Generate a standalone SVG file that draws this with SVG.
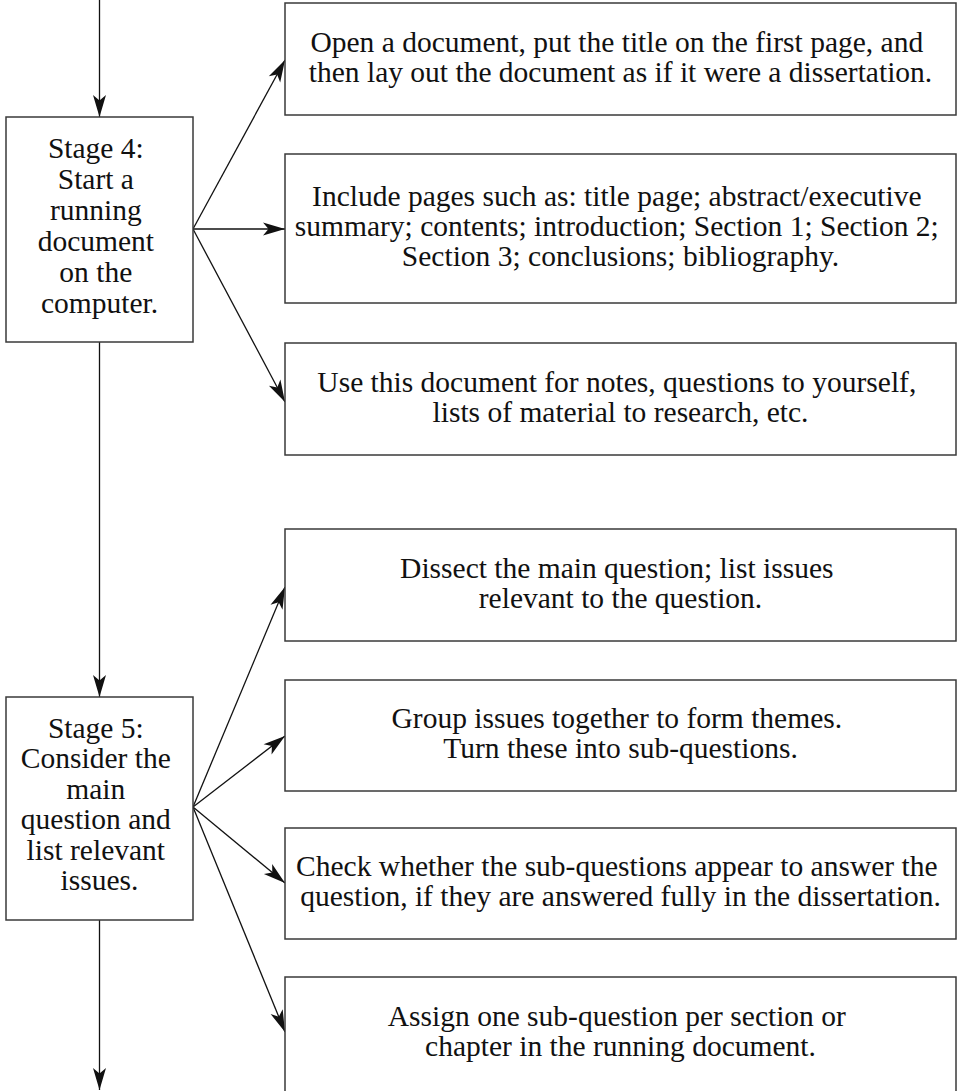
<svg xmlns="http://www.w3.org/2000/svg" width="959" height="1091" viewBox="0 0 959 1091">
  <style>
    .box { fill: #ffffff; stroke: #3a3a3a; stroke-width: 1.5; }
    .lbl { font-family: "Liberation Serif", "Times New Roman", serif; font-size: 29.5px; fill: #111111; text-anchor: middle; }
    .edge { fill: none; stroke: #111111; stroke-width: 1.3; marker-end: url(#arrow); }
  </style>
  <defs>
    <marker id="arrow" viewBox="-23 -7 24 14" refX="0" refY="0" markerWidth="24" markerHeight="14" markerUnits="userSpaceOnUse" orient="auto">
      <path d="M0,0 L-22,-6.5 L-16.5,0 L-22,6.5 Z" fill="#111111"/>
    </marker>
  </defs>

  <rect width="959" height="1091" fill="#ffffff"/>

  <!-- connectors -->
  <g id="connectors">
    <line class="edge" x1="99.5" y1="0" x2="99.5" y2="117"/>
    <line class="edge" x1="99.5" y1="342" x2="99.5" y2="697"/>
    <line class="edge" x1="99.5" y1="920" x2="99.5" y2="1090"/>
    <!-- stage 4 fan-out -->
    <line class="edge" x1="193" y1="229" x2="285" y2="60"/>
    <line class="edge" x1="193" y1="229" x2="285" y2="229"/>
    <line class="edge" x1="193" y1="229" x2="285" y2="402"/>
    <!-- stage 5 fan-out -->
    <line class="edge" x1="193" y1="807" x2="285" y2="587"/>
    <line class="edge" x1="193" y1="807" x2="285" y2="736"/>
    <line class="edge" x1="193" y1="807" x2="285" y2="883"/>
    <line class="edge" x1="193" y1="807" x2="285" y2="1032"/>
  </g>

  <!-- stage nodes -->
  <g id="stage4">
    <rect class="box" x="6" y="117" width="187" height="225"/>
    <text class="lbl">
      <tspan x="99.5" y="158">Stage 4:</tspan>
      <tspan x="99.5" y="189">Start a</tspan>
      <tspan x="99.5" y="220">running</tspan>
      <tspan x="99.5" y="251">document</tspan>
      <tspan x="99.5" y="282">on the</tspan>
      <tspan x="99.5" y="313">computer.</tspan>
    </text>
  </g>
  <g id="stage5">
    <rect class="box" x="6" y="697" width="187" height="223"/>
    <text class="lbl">
      <tspan x="99.5" y="738">Stage 5:</tspan>
      <tspan x="99.5" y="768">Consider the</tspan>
      <tspan x="99.5" y="799">main</tspan>
      <tspan x="99.5" y="829">question and</tspan>
      <tspan x="99.5" y="860">list relevant</tspan>
      <tspan x="99.5" y="890">issues.</tspan>
    </text>
  </g>

  <!-- task nodes for stage 4 -->
  <g id="task-open">
    <rect class="box" x="285" y="3" width="671" height="112"/>
    <text class="lbl">
      <tspan x="620.5" y="52">Open a document, put the title on the first page, and</tspan>
      <tspan x="620.5" y="82">then lay out the document as if it were a dissertation.</tspan>
    </text>
  </g>
  <g id="task-pages">
    <rect class="box" x="285" y="154" width="671" height="149"/>
    <text class="lbl">
      <tspan x="620.5" y="206">Include pages such as: title page; abstract/executive</tspan>
      <tspan x="620.5" y="236">summary; contents; introduction; Section 1; Section 2;</tspan>
      <tspan x="620.5" y="266">Section 3; conclusions; bibliography.</tspan>
    </text>
  </g>
  <g id="task-notes">
    <rect class="box" x="285" y="343" width="671" height="112"/>
    <text class="lbl">
      <tspan x="620.5" y="392">Use this document for notes, questions to yourself,</tspan>
      <tspan x="620.5" y="422">lists of material to research, etc.</tspan>
    </text>
  </g>

  <!-- task nodes for stage 5 -->
  <g id="task-dissect">
    <rect class="box" x="285" y="529" width="671" height="112"/>
    <text class="lbl">
      <tspan x="620.5" y="578">Dissect the main question; list issues</tspan>
      <tspan x="620.5" y="608">relevant to the question.</tspan>
    </text>
  </g>
  <g id="task-group">
    <rect class="box" x="285" y="680" width="671" height="111"/>
    <text class="lbl">
      <tspan x="620.5" y="728">Group issues together to form themes.</tspan>
      <tspan x="620.5" y="758">Turn these into sub-questions.</tspan>
    </text>
  </g>
  <g id="task-check">
    <rect class="box" x="285" y="828" width="671" height="111"/>
    <text class="lbl">
      <tspan x="620.5" y="876">Check whether the sub-questions appear to answer the</tspan>
      <tspan x="620.5" y="906">question, if they are answered fully in the dissertation.</tspan>
    </text>
  </g>
  <g id="task-assign">
    <rect class="box" x="285" y="977" width="671" height="120"/>
    <text class="lbl">
      <tspan x="620.5" y="1026">Assign one sub-question per section or</tspan>
      <tspan x="620.5" y="1056">chapter in the running document.</tspan>
    </text>
  </g>
</svg>
